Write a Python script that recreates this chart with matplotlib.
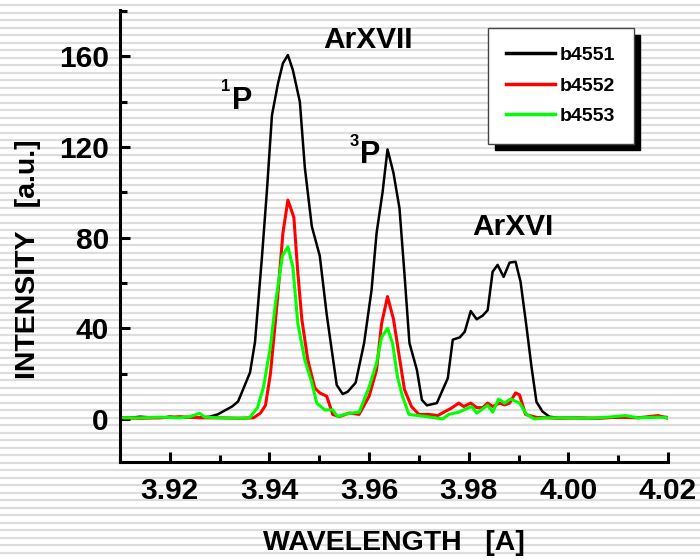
import numpy as np
from matplotlib import pyplot as plt
from matplotlib.ticker import MultipleLocator

plt.rcParams['font.family'] = ['Liberation Sans', 'DejaVu Sans']
plt.rcParams['font.weight'] = 'bold'

# b4551 (black)
x_b4551 = [3.910, 3.912, 3.914, 3.916, 3.918, 3.920, 3.922, 3.924, 3.926, 3.928,
           3.9296, 3.931, 3.9325, 3.9337, 3.9347, 3.9361, 3.9371, 3.9385, 3.9395, 3.9405,
           3.9417, 3.9427, 3.9437, 3.9447, 3.9461, 3.9471, 3.9485, 3.9501, 3.9515, 3.9535,
           3.9547, 3.9557, 3.9573, 3.959, 3.9605, 3.9615, 3.9627, 3.9637, 3.9649, 3.9661,
           3.9671, 3.9681, 3.9696, 3.9706, 3.9716, 3.9736, 3.9746, 3.9758, 3.9768, 3.9782,
           3.9792, 3.9804, 3.9816, 3.9828, 3.9838, 3.9848, 3.9858, 3.987, 3.9882, 3.9894,
           3.9904, 3.9916, 3.9926, 3.9936, 3.9948, 3.9962, 3.998, 4.000, 4.004, 4.008,
           4.012, 4.016, 4.018, 4.020]
y_b4551 = [0.5, 0.5, 1.0, 0.7, 0.5, 1.0, 0.5, 0.8, 0.6, 1.0,
           2, 3.7, 5.5, 7.7, 13, 20.5, 34, 71.6, 101, 134,
           148, 157, 160.6, 154, 140, 111, 85, 72, 46, 15,
           11, 12, 16, 33.5, 57, 82, 100, 119, 108.5, 93,
           64, 33.5, 21.6, 8.4, 6, 7, 12, 18, 35, 36,
           38.5, 47.6, 44, 45.6, 48, 65, 68, 62.7, 69, 69.4,
           60.6, 40.6, 23, 7.5, 3.3, 1, 0.5, 0.5, 0.3, 0.5,
           0.8, 0.5, 1.0, 0.8]

# b4552 (red)
x_b4552 = [3.910, 3.914, 3.918, 3.922, 3.926, 3.930, 3.934, 3.9368, 3.9382, 3.9392,
           3.9402, 3.9416, 3.9427, 3.9437, 3.9449, 3.9457, 3.9465, 3.9477, 3.9491, 3.9501,
           3.9515, 3.9527, 3.954, 3.956, 3.958, 3.960, 3.9615, 3.9625, 3.9637, 3.9649,
           3.9661, 3.9671, 3.9685, 3.970, 3.972, 3.9738, 3.975, 3.9764, 3.978, 3.979,
           3.9804, 3.9816, 3.9828, 3.9838, 3.9848, 3.9862, 3.9872, 3.9882, 3.9894, 3.9902,
           3.9914, 3.9936, 3.998, 4.002, 4.006, 4.010, 4.014, 4.018, 4.020]
y_b4552 = [0.5, 0.3, 0.5, 1.0, 0.5, 0.5, 0.3, 0.5, 2.6, 6,
           20, 52.6, 82, 96.6, 89, 64.4, 44, 26, 13.7, 11.5,
           10, 2, 1, 2.6, 2, 10, 21.6, 42, 54, 44,
           27, 13, 5.5, 2, 2, 1.5, 3, 4.6, 7, 5.5,
           7, 5, 5, 7, 5.5, 7, 6.2, 7, 11.5, 10.6,
           2, 0.7, 0.3, 0.5, 0.3, 0.8, 0.5, 1.5, 0.3]

# b4553 (green)
x_b4553 = [3.910, 3.914, 3.918, 3.922, 3.924, 3.926, 3.927, 3.930, 3.933, 3.936,
           3.9376, 3.9388, 3.9402, 3.9412, 3.9426, 3.9437, 3.9447, 3.9457, 3.9471, 3.9485,
           3.9495, 3.9511, 3.9527, 3.9537, 3.955, 3.9565, 3.958, 3.960, 3.9615, 3.9625,
           3.9637, 3.9647, 3.9657, 3.9667, 3.968, 3.9716, 3.9748, 3.976, 3.978, 3.9806,
           3.9816, 3.9838, 3.9848, 3.986, 3.9872, 3.9884, 3.9902, 3.9916, 3.9932, 3.9956,
           4.000, 4.004, 4.008, 4.0114, 4.014, 4.018, 4.020]
y_b4553 = [0.5, 0.5, 0.8, 0.5, 1.0, 2.5, 0.8, 0.5, 0.3, 0.5,
           5, 14, 32, 51, 72, 76, 67, 42, 26, 16,
           7, 4, 4, 1, 2, 2.6, 3, 14, 24.7, 36,
           40, 33.5, 18.5, 10, 2, 1, 0, 2, 3, 5.5,
           2.6, 6, 3, 8.8, 7, 8.8, 7, 2, 0, 0.5,
           0.5, 0.3, 0.8, 1.5, 0.5, 0.8, 0.5]

fig = plt.figure(figsize=(7, 5.6), dpi=100)

# striped background
bg = fig.add_axes([0, 0, 1, 1], zorder=-10)
bg.set_xlim(0, 700)
bg.set_ylim(560, 0)
bg.axis('off')
for yy in np.arange(5, 560, 7.5):
    bg.axhline(yy, color='#dddddd', lw=1.6)

ax = fig.add_axes([120 / 700, 98 / 560, 548 / 700, 452 / 560])
ax.patch.set_alpha(0)

ax.plot(x_b4551, y_b4551, color='black', lw=1.8, label='b4551')
ax.plot(x_b4552, y_b4552, color='#ff0000', lw=2.2, label='b4552')
ax.plot(x_b4553, y_b4553, color='#00ff00', lw=2.2, label='b4553')

ax.set_xlim(3.91, 4.02)
ax.set_ylim(-19, 180.5)
ax.xaxis.set_major_locator(MultipleLocator(0.02))
ax.xaxis.set_minor_locator(MultipleLocator(0.01))
ax.yaxis.set_major_locator(MultipleLocator(40))
ax.yaxis.set_minor_locator(MultipleLocator(20))
ax.xaxis.set_major_formatter(lambda v, p: '%.2f' % v)

for s in ['top', 'right']:
    ax.spines[s].set_visible(False)
for s in ['left', 'bottom']:
    ax.spines[s].set_linewidth(2.2)
ax.tick_params(which='both', direction='in', width=2.2, labelsize=21.5)
ax.tick_params(which='major', length=7)
ax.tick_params(which='minor', length=5)
ax.tick_params(axis='y', pad=8)
ax.tick_params(axis='x', pad=11)

ax.set_xlabel('WAVELENGTH   [A]', fontsize=20.5, fontweight='bold', va='center')
ax.xaxis.set_label_coords(0.5, -0.179)
ax.set_ylabel('INTENSITY   [a.u.]', fontsize=20.5, fontweight='bold', va='center')
ax.yaxis.set_label_coords(-0.167, 0.449)

# line annotations
ax.text(3.9597, 167.4, 'ArXVII', fontsize=21.5, ha='center', va='center')
ax.text(3.93454, 140.5, 'P', fontsize=22, ha='center', va='center')
ax.text(3.93124, 146.9, '1', fontsize=12, ha='center', va='center')
ax.text(3.96014, 116.6, 'P', fontsize=22, ha='center', va='center')
ax.text(3.95694, 122.4, '3', fontsize=12, ha='center', va='center')
ax.text(3.98894, 84.9, 'ArXVI', fontsize=21.5, ha='center', va='center')

leg = ax.legend(loc='upper left', bbox_to_anchor=(0.6715, 0.960), fontsize=14,
                fancybox=False, framealpha=1, edgecolor='#444444',
                shadow={'ox': 4.8, 'oy': -4.8, 'color': 'black', 'alpha': 1},
                handlelength=2.5, handletextpad=0.25, labelspacing=0.66,
                borderpad=0.95, borderaxespad=0)
leg.get_frame().set_linewidth(1.0)
for ln in leg.get_lines():
    ln.set_linewidth(2.5)

fig.savefig('out.png', dpi=100)
